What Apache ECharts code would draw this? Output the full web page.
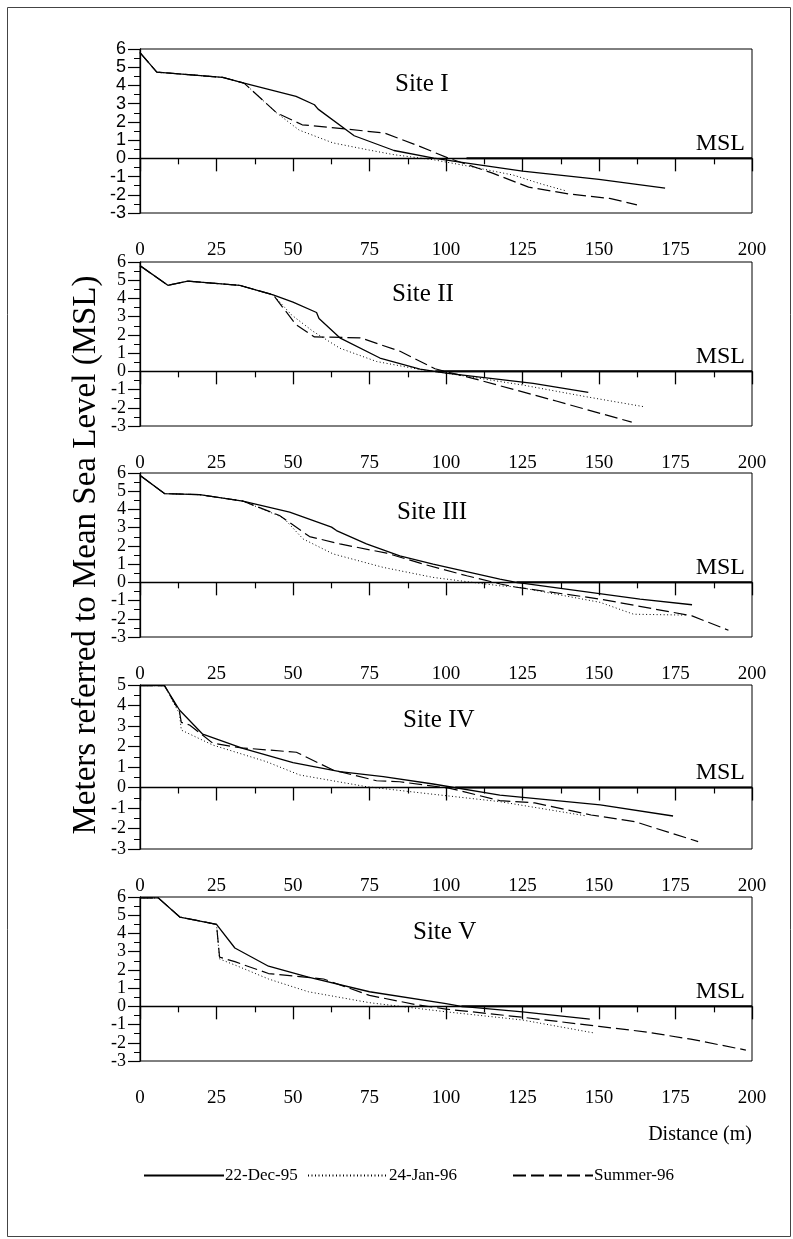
<!DOCTYPE html>
<html>
<head>
<meta charset="utf-8">
<script src="https://cdn.jsdelivr.net/npm/echarts@6/dist/echarts.min.js"></script>
<style>
html,body{margin:0;padding:0;background:#fff;}
#c{width:793px;height:1239px;}
</style>
</head>
<body>
<div id="c"></div>
<script>
// ---------- data ----------
const siteNames = ['Site I', 'Site II', 'Site III', 'Site IV', 'Site V'];
const seriesNames = ['22-Dec-95', '24-Jan-96', 'Summer-96'];
const yMax = [6, 6, 6, 5, 6];
const yMin = [-3, -3, -3, -3, -3];
const xMin = 0, xMax = 200, xStep = 25;
const mslStart = [106.7, 96.5, 123, 103, 105];

const s1_dec = [[0,5.8],[5.5,4.73],[27,4.44],[34,4.13],[51,3.4],[57,2.94],[58.2,2.7],[70,1.24],[83,0.43],[96,0.01],[103.5,-0.18],[125,-0.7],[150,-1.15],[171.6,-1.64]];
const s1_jan = [[0,5.8],[5.5,4.73],[27,4.44],[34,4.13],[44.6,2.5],[52,1.55],[63,0.85],[75,0.45],[83,0.2],[96,-0.08],[108,-0.45],[122,-0.92],[131,-1.4],[139.5,-1.8]];
const s1_sum = [[0,5.8],[5.5,4.73],[27,4.44],[34,4.13],[44.6,2.5],[53,1.84],[67,1.62],[80,1.38],[90,0.75],[101,0.0],[115,-0.8],[127,-1.58],[140,-1.95],[153.5,-2.2],[162.4,-2.55]];

const s2_dec = [[0,5.8],[9.1,4.72],[15.6,4.95],[32.6,4.72],[43.5,4.2],[50,3.8],[57.7,3.23],[58.5,2.9],[65.3,1.84],[78.4,0.73],[91.5,0.12],[100,-0.1],[128.5,-0.66],[146.5,-1.15]];
const s2_jan = [[0,5.8],[9.1,4.72],[15.6,4.95],[32.6,4.72],[43.5,4.2],[49.5,3.1],[56.5,2.2],[65.3,1.27],[77.3,0.54],[91.5,0.1],[97,-0.02],[125,-0.75],[146,-1.4],[165,-1.95]];
const s2_sum = [[0,5.8],[9.1,4.72],[15.6,4.95],[32.6,4.72],[43.5,4.2],[51,2.56],[57,1.89],[72,1.84],[85,1.1],[96.4,0.14],[110,-0.44],[136,-1.63],[160.7,-2.79]];

const s3_dec = [[0,5.87],[8,4.87],[19.5,4.81],[33.6,4.46],[48.9,3.85],[62.6,3.03],[64.2,2.84],[74,2.11],[84.9,1.45],[95.8,1.0],[117.6,0.18],[123,0.0],[163.4,-0.92],[180.4,-1.23]];
const s3_jan = [[0,5.87],[8,4.87],[19.5,4.81],[33.6,4.46],[46.8,3.55],[53.3,2.38],[63.1,1.56],[79.5,0.82],[95.8,0.27],[117.6,-0.19],[123.1,-0.25],[150.4,-1.1],[161.3,-1.75],[178.7,-1.8]];
const s3_sum = [[0,5.87],[8,4.87],[19.5,4.81],[33.6,4.46],[45.6,3.67],[55.4,2.51],[65.3,2.11],[80.6,1.6],[92.6,1.0],[106.8,0.36],[117.8,-0.09],[123,-0.27],[150.4,-0.92],[180.4,-1.84],[192.3,-2.63]];

const s4_dec = [[0,4.97],[8,4.97],[12.9,3.78],[20.5,2.6],[33.6,1.91],[50,1.21],[65.3,0.77],[79.5,0.53],[95.8,0.17],[117.6,-0.37],[150.4,-0.85],[174.2,-1.39]];
const s4_jan = [[0,4.97],[8,4.97],[12.9,3.6],[13.5,2.8],[23.8,2.07],[41.3,1.26],[52.2,0.61],[74,0.04],[95.8,-0.33],[117.6,-0.69],[146,-1.39]];
const s4_sum = [[0,4.97],[8,4.97],[12.9,3.7],[13.5,3.18],[16.2,3.05],[23.8,2.16],[32.6,1.94],[51.1,1.72],[63.1,0.85],[77.3,0.33],[84.9,0.28],[101.3,-0.04],[117.6,-0.64],[129,-0.75],[147.4,-1.34],[161.8,-1.67],[182.4,-2.64]];

const s5_dec = [[0,5.95],[6,5.95],[13,4.9],[25,4.5],[31,3.2],[42,2.2],[55,1.6],[75,0.8],[100,0.15],[105,0],[125,-0.3],[147,-0.7]];
const s5_jan = [[0,5.95],[6,5.95],[13,4.9],[25,4.5],[26,2.6],[32,2.2],[42,1.5],[55,0.8],[75,0.2],[100,-0.3],[125,-0.75],[148,-1.45]];
const s5_sum = [[0,5.95],[6,5.95],[13,4.9],[25,4.5],[26,2.7],[31,2.45],[42,1.8],[60,1.5],[75,0.6],[90,0.1],[100,-0.15],[125,-0.6],[150,-1.1],[165,-1.4],[180,-1.8],[198,-2.4]];

const siteData = [
  [s1_dec, s1_jan, s1_sum],
  [s2_dec, s2_jan, s2_sum],
  [s3_dec, s3_jan, s3_sum],
  [s4_dec, s4_jan, s4_sum],
  [s5_dec, s5_jan, s5_sum]
];

// ---------- layout ----------
const gridLeft = 140, gridWidth = 612, gridHeight = 164;
const gridTops = [49, 262, 473, 685, 897];
const siteLabelLeft = [395, 392, 397, 403, 413];
const siteLabelDy = [23, 20, 27, 23, 23];
const legendLefts = [143, 307, 512];
const serif = '"Liberation Serif", "Times New Roman", serif';
const sans = '"Liberation Sans", Arial, sans-serif';

const lineStyles = [
  {color: '#000', width: 1.3, type: 'solid'},
  {color: '#000', width: 1, type: [1, 2.5]},
  {color: '#000', width: 1.2, type: [13, 5]}
];

const grids = [], xAxes = [], yAxes = [], series = [], titles = [];
for (let i = 0; i < 5; i++) {
  grids.push({left: gridLeft, width: gridWidth, top: gridTops[i], height: gridHeight,
    show: true, borderColor: '#000', borderWidth: 1, backgroundColor: 'transparent'});
  xAxes.push({type: 'value', gridIndex: i, min: xMin, max: xMax, interval: xStep,
    axisLine: {show: true, lineStyle: {color: '#000', width: 1.3}},
    axisTick: {show: true, inside: false, length: 13, lineStyle: {color: '#000', width: 1.3}},
    minorTick: {show: true, splitNumber: 2, length: 6, lineStyle: {color: '#000', width: 1.2}},
    splitLine: {show: false},
    axisLabel: {color: '#000', fontFamily: serif, fontSize: 19, margin: 28, showMinLabel: true, showMaxLabel: true}});
  yAxes.push({type: 'value', gridIndex: i, min: yMin[i], max: yMax[i], interval: 1,
    axisLine: {show: true, lineStyle: {color: '#000', width: 1.3}},
    axisTick: {show: true, inside: false, length: 12, lineStyle: {color: '#000', width: 1.2}},
    minorTick: {show: true, splitNumber: 2, length: 6, lineStyle: {color: '#000', width: 1}},
    splitLine: {show: false},
    axisLabel: {color: '#000', fontFamily: i === 0 ? sans : serif, fontSize: 18, margin: 14,
      showMinLabel: true, showMaxLabel: true, hideOverlap: false}});
  siteData[i].forEach((d, k) => {
    series.push({type: 'line', name: seriesNames[k], xAxisIndex: i, yAxisIndex: i, data: d,
      symbol: 'none', smooth: false, lineStyle: lineStyles[k], itemStyle: {color: '#000'},
      silent: true, z: 3});
  });
  series.push({type: 'line', name: 'MSL', xAxisIndex: i, yAxisIndex: i,
    data: [[mslStart[i], 0], [xMax, 0]], symbol: 'none',
    lineStyle: {color: '#000', width: 2}, silent: true, z: 2});
  const pxPerUnit = gridHeight / (yMax[i] - yMin[i]);
  const zeroY = gridTops[i] + yMax[i] * pxPerUnit;
  titles.push({text: siteNames[i], left: siteLabelLeft[i], top: gridTops[i] + siteLabelDy[i], padding: 0,
    textStyle: {fontFamily: serif, fontSize: 25, fontWeight: 'normal', color: '#000'}});
  titles.push({text: 'MSL', right: 793 - 745, top: zeroY - 27, padding: 0,
    textStyle: {fontFamily: serif, fontSize: 24, fontWeight: 'normal', color: '#000'}});
}
const lastBottom = gridTops[4] + gridHeight;
titles.push({text: 'Distance (m)', right: 793 - 752, top: lastBottom + 64, padding: 0,
  textStyle: {fontFamily: serif, fontSize: 20, fontWeight: 'normal', color: '#000'}});

const legends = seriesNames.map((n, k) => ({
  data: [n], left: legendLefts[k], top: lastBottom + 106, padding: 0,
  itemWidth: 80, itemHeight: 12,
  itemStyle: {opacity: 0, borderWidth: 0},
  textStyle: {fontFamily: serif, fontSize: 17, color: '#000', padding: [0, 0, 0, -4]},
  selectedMode: false
}));

const chart = echarts.init(document.getElementById('c'), null, {renderer: 'canvas'});
chart.setOption({
  animation: false,
  backgroundColor: '#fff',
  grid: grids, xAxis: xAxes, yAxis: yAxes, series: series, title: titles,
  legend: legends,
  graphic: [
    {type: 'rect', left: 5, top: 5, shape: {x: 0, y: 0, width: 783, height: 1229},
      style: {fill: 'none', stroke: '#444', lineWidth: 1}, silent: true},
    {type: 'text', x: 86, y: (gridTops[0] + lastBottom) / 2, rotation: Math.PI / 2,
      style: {text: 'Meters referred to Mean Sea Level (MSL)', font: '33px ' + serif, fill: '#000',
        textAlign: 'center', textVerticalAlign: 'middle'}}
  ]
});
</script>
</body>
</html>
